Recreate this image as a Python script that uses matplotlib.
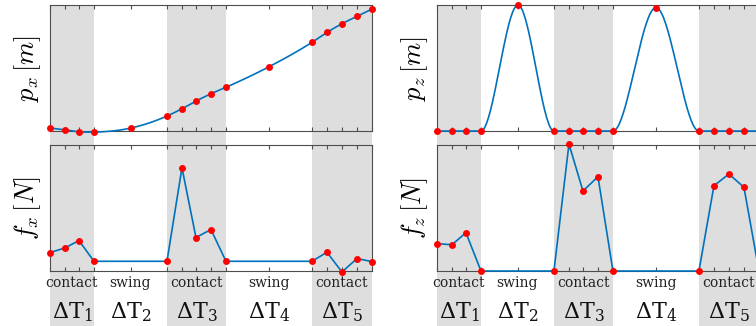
import numpy as np
import matplotlib
matplotlib.use("Agg")
import matplotlib.pyplot as plt
from matplotlib import transforms

# knot times [s] and phase layout
t_nodes = [0.00, 0.15, 0.29, 0.44, 0.81, 1.17, 1.32, 1.46, 1.61, 1.76,
           2.19, 2.62, 2.77, 2.92, 3.07, 3.22]
phase_bounds = [0.00, 0.44, 1.17, 1.76, 2.62, 3.22]
phase_names = ["contact", "swing", "contact", "swing", "contact"]
contact_slices = [(0, 4), (5, 10), (11, 16)]

# foot position knots
p_x = [0.024, 0.010, -0.006, -0.008, 0.024, 0.119, 0.177, 0.238, 0.296, 0.347,
       0.510, 0.704, 0.783, 0.852, 0.910, 0.968]
p_z = [0.0, 0.0, 0.0, 0.0, 0.100, 0.0, 0.0, 0.0, 0.0, 0.0,
       0.098, 0.0, 0.0, 0.0, 0.0, 0.0]

# contact force knots, one list per contact phase
f_x = [[8.7, 13.3, 20.7, 0.0],
       [0.0, 93.3, 23.7, 31.7, 0.0],
       [0.0, 9.0, -10.7, 2.7, -0.3]]
f_z = [[27.3, 26.3, 38.3, 0.0],
       [0.0, 127.0, 80.0, 94.3, 0.0],
       [0.0, 85.3, 97.0, 83.7, 0.0]]

BLUE = "#0072BD"
RED = "#ff0000"
GRAY = "#dedede"
SPINE = "#4d4d4d"


def hermite(t, y, dy, n=40):
    t = np.asarray(t, float); y = np.asarray(y, float); dy = np.asarray(dy, float)
    ts, ys = [], []
    s = np.linspace(0, 1, n)
    for i in range(len(t) - 1):
        h = t[i + 1] - t[i]
        h00 = 2 * s**3 - 3 * s**2 + 1
        h10 = s**3 - 2 * s**2 + s
        h01 = -2 * s**3 + 3 * s**2
        h11 = s**3 - s**2
        ys.append(h00 * y[i] + h10 * h * dy[i] + h01 * y[i + 1] + h11 * h * dy[i + 1])
        ts.append(t[i] + s * h)
    return np.concatenate(ts), np.concatenate(ys)


def force_knots(forces):
    tk, yk = [], []
    for (a, b), f in zip(contact_slices, forces):
        tk += t_nodes[a:b]; yk += f
    return tk, yk


def style(ax, ylabel, ylim):
    ax.set_facecolor("none")
    ax.set_xlim(phase_bounds[0], phase_bounds[-1])
    ax.set_ylim(*ylim)
    ax.set_xticks(t_nodes); ax.set_xticklabels([])
    ax.set_yticks([])
    ax.tick_params(axis="x", direction="in", length=3, width=0.8, color=SPINE,
                   top=True, bottom=True)
    for sp in ax.spines.values():
        sp.set_color(SPINE); sp.set_linewidth(0.8)
    ax.set_ylabel(ylabel, fontsize=19, labelpad=5, math_fontfamily="cm")


fig = plt.figure(figsize=(7.56, 3.26), dpi=100)
W, H = 0.4259, 0.3865
lefts = [0.0661, 0.578]
bot_low, bot_high = 0.1687, 0.598

panels = [(p_x, f_x, r"$p_x\,[m]$", r"$f_x\,[N]$", (0.0, 1.0), (-9.7, 116.0), False),
          (p_z, f_z, r"$p_z\,[m]$", r"$f_z\,[N]$", (0.0, 0.1), (0.0, 126.0), True)]

for left, (pos, frc, lab_p, lab_f, ylp, ylf, flat) in zip(lefts, panels):
    bg = fig.add_axes([left, 0.0, W, bot_high + H], zorder=0)
    bg.set_xlim(phase_bounds[0], phase_bounds[-1]); bg.axis("off")
    trans = transforms.blended_transform_factory(bg.transData, fig.transFigure)
    for i, name in enumerate(phase_names):
        t0, t1 = phase_bounds[i], phase_bounds[i + 1]
        if name == "contact":
            bg.axvspan(t0, t1, color=GRAY, lw=0)
        tc = 0.5 * (t0 + t1)
        bg.text(tc, 0.1196, name, transform=trans, ha="center", va="baseline",
                fontsize=10, family="DejaVu Serif", color="#222222")
        bg.text(tc, 0.0245, r"$\Delta\mathrm{T}_%d$" % (i + 1), transform=trans,
                ha="center", va="baseline", fontsize=16,
                math_fontfamily="dejavuserif", color="#111111")

    ax1 = fig.add_axes([left, bot_high, W, H], zorder=1)
    dy = np.zeros(len(pos)) if flat else np.gradient(pos, t_nodes)
    cx, cy = hermite(t_nodes, pos, dy)
    ax1.plot(cx, cy, color=BLUE, lw=1.2, clip_on=False, zorder=3)
    ax1.plot(t_nodes, pos, "o", color=RED, ms=5, mew=0, clip_on=False, zorder=4)
    style(ax1, lab_p, ylp)

    ax2 = fig.add_axes([left, bot_low, W, H], zorder=1)
    tk, yk = force_knots(frc)
    ax2.plot(tk, yk, color=BLUE, lw=1.2, clip_on=False, zorder=3)
    ax2.plot(tk, yk, "o", color=RED, ms=5, mew=0, clip_on=False, zorder=4)
    style(ax2, lab_f, ylf)

fig.savefig("out.png", dpi=100)
plt.close(fig)
